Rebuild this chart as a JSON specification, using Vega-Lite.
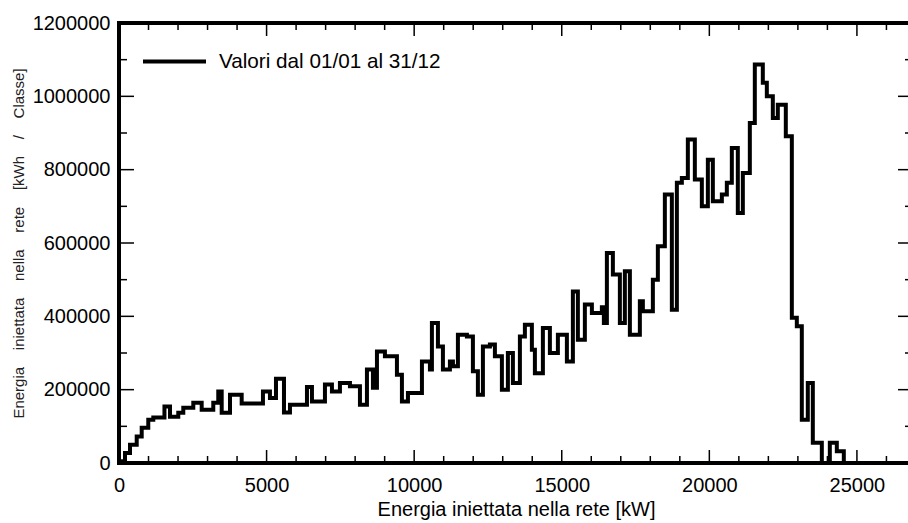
{
  "$schema": "https://vega.github.io/schema/vega-lite/v6.json",
  "width": 794,
  "height": 440,
  "autosize": {"type": "none"},
  "padding": {"left": 119, "top": 23, "right": 0, "bottom": 60},
  "background": "white",
  "config": {
    "view": {"stroke": "#000", "strokeWidth": 4},
    "font": "Liberation Sans",
    "axis": {"domain": false, "ticks": false, "grid": false, "labelFlush": false, "labelOverlap": false}
  },
  "datasets": {
    "xMajor": [{"v": 0}, {"v": 5000}, {"v": 10000}, {"v": 15000}, {"v": 20000}, {"v": 25000}],
    "xMinor": [{"v": 1000}, {"v": 2000}, {"v": 3000}, {"v": 4000}, {"v": 6000}, {"v": 7000}, {"v": 8000}, {"v": 9000}, {"v": 11000}, {"v": 12000}, {"v": 13000}, {"v": 14000}, {"v": 16000}, {"v": 17000}, {"v": 18000}, {"v": 19000}, {"v": 21000}, {"v": 22000}, {"v": 23000}, {"v": 24000}, {"v": 26000}],
    "yMajor": [{"v": 0}, {"v": 200000}, {"v": 400000}, {"v": 600000}, {"v": 800000}, {"v": 1000000}, {"v": 1200000}],
    "yMinor": [{"v": 100000}, {"v": 300000}, {"v": 500000}, {"v": 700000}, {"v": 900000}, {"v": 1100000}],
    "serie": [
      {"kw": 0, "e": 5000}, {"kw": 203, "e": 27000}, {"kw": 373, "e": 50000}, {"kw": 600, "e": 72000},
      {"kw": 769, "e": 96000}, {"kw": 992, "e": 118000}, {"kw": 1162, "e": 124000}, {"kw": 1540, "e": 154000},
      {"kw": 1727, "e": 126000}, {"kw": 2008, "e": 137000}, {"kw": 2178, "e": 151000}, {"kw": 2517, "e": 164000},
      {"kw": 2801, "e": 145000}, {"kw": 3194, "e": 164000}, {"kw": 3363, "e": 195000}, {"kw": 3479, "e": 137000},
      {"kw": 3760, "e": 186000}, {"kw": 4156, "e": 162000}, {"kw": 4877, "e": 195000}, {"kw": 5114, "e": 177000},
      {"kw": 5318, "e": 230000}, {"kw": 5589, "e": 138000}, {"kw": 5792, "e": 159000}, {"kw": 6368, "e": 207000},
      {"kw": 6537, "e": 168000}, {"kw": 6977, "e": 214000}, {"kw": 7214, "e": 195000}, {"kw": 7485, "e": 218000},
      {"kw": 7824, "e": 209000}, {"kw": 8163, "e": 159000}, {"kw": 8400, "e": 255000}, {"kw": 8603, "e": 205000},
      {"kw": 8739, "e": 304000}, {"kw": 9009, "e": 291000}, {"kw": 9416, "e": 241000}, {"kw": 9585, "e": 168000},
      {"kw": 9789, "e": 191000}, {"kw": 10263, "e": 277000}, {"kw": 10534, "e": 255000}, {"kw": 10601, "e": 382000},
      {"kw": 10805, "e": 318000}, {"kw": 10974, "e": 255000}, {"kw": 11211, "e": 277000}, {"kw": 11313, "e": 264000},
      {"kw": 11482, "e": 350000}, {"kw": 11787, "e": 345000}, {"kw": 11990, "e": 250000}, {"kw": 12159, "e": 186000},
      {"kw": 12329, "e": 318000}, {"kw": 12566, "e": 323000}, {"kw": 12735, "e": 291000}, {"kw": 12972, "e": 200000},
      {"kw": 13175, "e": 300000}, {"kw": 13345, "e": 218000}, {"kw": 13582, "e": 345000}, {"kw": 13751, "e": 377000},
      {"kw": 13988, "e": 309000}, {"kw": 14090, "e": 245000}, {"kw": 14361, "e": 368000}, {"kw": 14598, "e": 300000},
      {"kw": 14869, "e": 350000}, {"kw": 15174, "e": 277000}, {"kw": 15377, "e": 468000}, {"kw": 15546, "e": 336000},
      {"kw": 15783, "e": 432000}, {"kw": 16021, "e": 409000}, {"kw": 16359, "e": 425000}, {"kw": 16427, "e": 382000},
      {"kw": 16529, "e": 573000}, {"kw": 16732, "e": 514000}, {"kw": 16969, "e": 382000}, {"kw": 17138, "e": 523000},
      {"kw": 17308, "e": 350000}, {"kw": 17646, "e": 441000}, {"kw": 17748, "e": 414000}, {"kw": 18087, "e": 500000},
      {"kw": 18256, "e": 591000}, {"kw": 18493, "e": 732000}, {"kw": 18730, "e": 418000}, {"kw": 18900, "e": 764000},
      {"kw": 19069, "e": 777000}, {"kw": 19272, "e": 882000}, {"kw": 19509, "e": 773000}, {"kw": 19746, "e": 700000},
      {"kw": 19950, "e": 827000}, {"kw": 20119, "e": 714000}, {"kw": 20424, "e": 732000}, {"kw": 20593, "e": 764000},
      {"kw": 20762, "e": 859000}, {"kw": 20965, "e": 682000}, {"kw": 21135, "e": 791000}, {"kw": 21372, "e": 927000},
      {"kw": 21541, "e": 1087000}, {"kw": 21812, "e": 1037000}, {"kw": 21948, "e": 1000000}, {"kw": 22151, "e": 941000},
      {"kw": 22320, "e": 977000}, {"kw": 22591, "e": 891000}, {"kw": 22795, "e": 396000}, {"kw": 22964, "e": 373000},
      {"kw": 23133, "e": 118000}, {"kw": 23336, "e": 218000}, {"kw": 23506, "e": 55000}, {"kw": 23811, "e": 0},
      {"kw": 24082, "e": 55000}, {"kw": 24319, "e": 32000}, {"kw": 24556, "e": 0}, {"kw": 26900, "e": 0}
    ]
  },
  "layer": [
    {
      "data": {"name": "serie"},
      "transform": [{"calculate": "'Valori dal 01/01 al 31/12'", "as": "serie"}],
      "mark": {"type": "line", "interpolate": "step-after", "strokeWidth": 4, "strokeJoin": "miter", "strokeCap": "square"},
      "encoding": {
        "x": {"field": "kw", "type": "quantitative",
          "scale": {"domain": [0, 26900], "nice": false, "zero": false},
          "axis": {"orient": "bottom", "values": [0, 5000, 10000, 15000, 20000, 25000], "format": "d",
            "labelPadding": 12,
            "labelFontSize": 20, "labelColor": "#000", "labelFont": "Liberation Sans",
            "title": "Energia iniettata nella rete [kW]", "titleFontSize": 20, "titleFontWeight": "normal",
            "titleColor": "#000", "titleFont": "Liberation Sans", "titlePadding": 4}},
        "y": {"field": "e", "type": "quantitative",
          "scale": {"domain": [0, 1200000], "nice": false, "zero": false},
          "axis": {"orient": "left", "values": [0, 200000, 400000, 600000, 800000, 1000000, 1200000], "format": "d",
            "labelPadding": 9,
            "labelFontSize": 20, "labelColor": "#000", "labelFont": "Liberation Sans",
            "title": "Energia\u00a0\u00a0\u00a0\u00a0iniettata\u00a0\u00a0\u00a0\u00a0nella\u00a0\u00a0\u00a0\u00a0rete\u00a0\u00a0\u00a0\u00a0[kWh\u00a0\u00a0\u00a0\u00a0/\u00a0\u00a0\u00a0\u00a0Classe]",
            "titleFontSize": 15, "titleFontWeight": "normal", "titleColor": "#222", "titleFont": "Liberation Sans", "titlePadding": 6}},
        "color": {"field": "serie", "type": "nominal", "scale": {"range": ["#000"]},
          "legend": {"orient": "none", "legendX": 22, "legendY": 5, "title": null, "symbolType": "stroke",
            "symbolSize": 3969, "symbolStrokeWidth": 4, "symbolStrokeColor": "#000", "labelFontSize": 20.7,
            "labelFont": "Liberation Sans", "labelColor": "#000", "labelOffset": 11, "labelLimit": 500, "padding": 0}}
      }
    },
    {
      "data": {"name": "xMajor"},
      "mark": {"type": "tick", "orient": "vertical", "size": 13, "thickness": 1.5, "color": "#000", "opacity": 1},
      "encoding": {
        "x": {"field": "v", "type": "quantitative"},
        "y": {"datum": 17727, "type": "quantitative"}
      }
    },
    {
      "data": {"name": "xMajor"},
      "mark": {"type": "tick", "orient": "vertical", "size": 13, "thickness": 1.5, "color": "#000", "opacity": 1},
      "encoding": {
        "x": {"field": "v", "type": "quantitative"},
        "y": {"datum": 1182273, "type": "quantitative"}
      }
    },
    {
      "data": {"name": "xMinor"},
      "mark": {"type": "tick", "orient": "vertical", "size": 7, "thickness": 1.5, "color": "#000", "opacity": 1},
      "encoding": {
        "x": {"field": "v", "type": "quantitative"},
        "y": {"datum": 9545, "type": "quantitative"}
      }
    },
    {
      "data": {"name": "xMinor"},
      "mark": {"type": "tick", "orient": "vertical", "size": 7, "thickness": 1.5, "color": "#000", "opacity": 1},
      "encoding": {
        "x": {"field": "v", "type": "quantitative"},
        "y": {"datum": 1190455, "type": "quantitative"}
      }
    },
    {
      "data": {"name": "yMajor"},
      "mark": {"type": "tick", "orient": "horizontal", "size": 15, "thickness": 1.5, "color": "#000", "opacity": 1},
      "encoding": {
        "y": {"field": "v", "type": "quantitative"},
        "x": {"datum": 254, "type": "quantitative"}
      }
    },
    {
      "data": {"name": "yMajor"},
      "mark": {"type": "tick", "orient": "horizontal", "size": 15, "thickness": 1.5, "color": "#000", "opacity": 1},
      "encoding": {
        "y": {"field": "v", "type": "quantitative"},
        "x": {"datum": 26646, "type": "quantitative"}
      }
    },
    {
      "data": {"name": "yMinor"},
      "mark": {"type": "tick", "orient": "horizontal", "size": 8, "thickness": 1.5, "color": "#000", "opacity": 1},
      "encoding": {
        "y": {"field": "v", "type": "quantitative"},
        "x": {"datum": 135.5, "type": "quantitative"}
      }
    },
    {
      "data": {"name": "yMinor"},
      "mark": {"type": "tick", "orient": "horizontal", "size": 8, "thickness": 1.5, "color": "#000", "opacity": 1},
      "encoding": {
        "y": {"field": "v", "type": "quantitative"},
        "x": {"datum": 26764.5, "type": "quantitative"}
      }
    }
  ]
}
